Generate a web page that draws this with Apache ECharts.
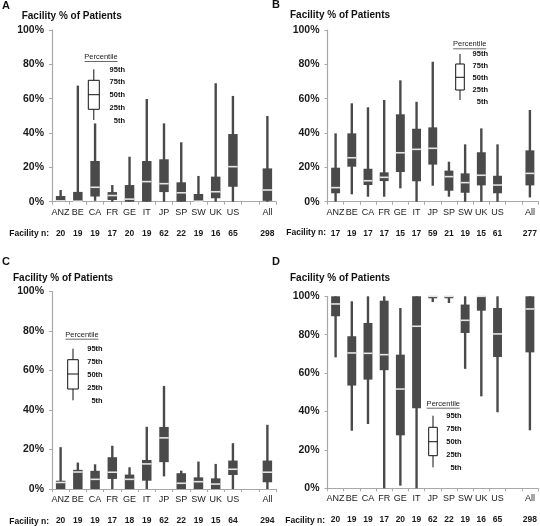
<!DOCTYPE html>
<html>
<head>
<meta charset="utf-8">
<script src="https://cdn.jsdelivr.net/npm/echarts@6/dist/echarts.min.js"></script>
<style>html,body{margin:0;padding:0;background:#fff;}#chart{width:540px;height:526px;}</style>
</head>
<body>
<div id="chart"></div>
<script>
// ---- data ----
const categories = ['ANZ','BE','CA','FR','GE','IT','JP','SP','SW','UK','US','','All'];
const nA = ['20','19','19','17','20','19','62','22','19','16','65','','298'];
const nB = ['17','19','17','17','15','17','59','21','19','15','61','','277'];
const nC = ['20','19','19','17','18','19','62','22','19','15','64','','294'];
const nD = ['20','19','19','17','20','19','62','22','19','16','65','','298'];
// [5th, 25th, 50th, 75th, 95th] per category (null = empty slot)
const boxA = [[0,0,0.5,3.3,6.8],[0,0,0.3,5.7,67.6],[0.5,3,8.4,23.7,45.6],[0,1,3.6,5.6,9.7],[0,0,1.5,9.7,26.2],[0,0,11.7,23.7,59.8],[0,5.6,10.5,24.7,45.6],[0,0,5.2,11.3,34.6],[0,0,0.3,4.5,15],[0,2,5.8,14.6,69],[0,8.7,20.4,39.4,61.6],null,[0,0.5,6.8,19.4,49.9]];
const boxB = [[0,4.9,8.2,19.8,39.8],[4.3,20.4,25.6,39.8,57.3],[2.9,9.7,12.2,19.2,55],[2.9,12,14.2,17.1,59.2],[7.8,17.3,28.5,50.9,70.7],[0,11.9,30.5,42.5,58.2],[9.3,21.6,31.1,43.3,81.5],[2.9,6.4,14.6,18.1,23.3],[0,5.2,11.1,16.5,33.4],[0,9.5,15.4,28.8,42.7],[0,4.9,9.7,15.1,33.4],null,[2.5,9.5,16.5,29.9,53.4]];
const boxC = [[0,0,3.3,4.2,21.2],[0,0,8.6,9.7,13.4],[0,0,4.9,9.2,12.5],[0,5.1,8.5,16.1,21.9],[0,0,4.9,7.3,11],[0,4.2,12.7,14.7,31.5],[6.4,13.6,25.9,31.4,52.2],[0,0,2.9,8,9.3],[0,0,3.7,5.9,13.9],[0,0,2.5,5.4,12.7],[0,7.1,10,14.4,23.2],null,[0,3.4,8.5,14.4,32.5]];
const boxD = [[68.2,89.6,96,100,100],[30,53.5,70.5,79.2,97.4],[33.5,56.6,70.3,86.1,100],[0,61.5,69.6,97.7,100],[1.4,27.6,51.7,69.6,93.9],[0,41.7,84.4,100,100],[97,99,100,100,100],[96.5,99,100,100,100],[62.2,80.9,87.5,95.7,100],[47.9,92.5,100,100,100],[39.6,68.4,80.4,93.9,100],null,[30.2,70.8,93.4,100,100]];
const panelLetters = ['A','B','C','D'];
const panelTitle = 'Facility % of Patients';
const nRowLabel = 'Facility n:';
const legendTitle = 'Percentile';
const legendLabels = ['95th','75th','50th','25th','5th'];

// ---- layout ----
const FONT = 'Liberation Sans, Arial, sans-serif';
const DARK = '#4a4a4a';
const AXIS = '#a8a8a8';
const grids = [
  {left:52, top:30, width:224, height:171.7},
  {left:327.5, top:30, width:210.5, height:171.7},
  {left:52, top:291.5, width:224, height:197.5},
  {left:327.5, top:296.3, width:210.5, height:192}
];
const boxes = [boxA, boxB, boxC, boxD];
const ns = [nA, nB, nC, nD];

function toData(arr){
  const out = [];
  arr.forEach((b,i)=>{ if(b) out.push([i].concat(b)); });
  return out;
}

function renderBox(params, api){
  const xi = api.value(0);
  const p = [1,2,3,4,5].map(k => api.coord([xi, api.value(k)]));
  const cx = p[0][0];
  const bw = api.size([1,0])[0]*0.55;
  const wW = 2.4;
  let boxTop = p[3][1], boxBot = p[1][1];
  if (boxBot - boxTop < 2) boxBot = boxTop + 2;
  return {type:'group', children:[
    {type:'rect', shape:{x:cx-wW/2, y:p[4][1], width:wW, height:p[0][1]-p[4][1]}, style:{fill:DARK}},
    {type:'rect', shape:{x:cx-bw/2, y:boxTop, width:bw, height:boxBot-boxTop}, style:{fill:DARK}},
    {type:'rect', shape:{x:cx-bw/2, y:p[2][1]-0.8, width:bw, height:1.6}, style:{fill:'#e4e4e4'}}
  ]};
}

const xAxes = [], yAxes = [], series = [];
grids.forEach((g,i)=>{
  xAxes.push({type:'category', gridIndex:i, data:categories,
    axisLine:{lineStyle:{color:AXIS, width:1}},
    axisTick:{show:true, length:3, lineStyle:{color:AXIS}},
    axisLabel:{interval:0, margin:6, fontSize:9, color:'#1a1a1a', fontFamily:FONT}});
  xAxes.push({type:'category', gridIndex:i, data:ns[i], position:'bottom', offset:21,
    axisLine:{show:false}, axisTick:{show:false},
    axisLabel:{interval:0, margin:6, fontSize:8.5, fontWeight:'bold', color:'#1a1a1a', fontFamily:FONT}});
  yAxes.push({type:'value', gridIndex:i, min:0, max:100, interval:20,
    axisLine:{show:true, lineStyle:{color:AXIS, width:1.2}},
    axisTick:{show:true, length:3, lineStyle:{color:AXIS}},
    splitLine:{show:false},
    axisLabel:{formatter:'{value}%', fontSize:10.5, fontWeight:'bold', color:'#1a1a1a', margin:8, fontFamily:FONT}});
  series.push({type:'custom', xAxisIndex:i*2, yAxisIndex:i, renderItem:renderBox,
    encode:{x:0, y:[1,2,3,4,5]}, data:toData(boxes[i]), silent:true, animation:false});
});

// legends (positions in px)
const legendPos = [
  {cx:93.8, bw:11, w95:69.3, b75:80.3, med:94.7, b25:109.3, w5:120, tx:101, ty:57, lx:125, ly:[70,82,95,108.3,121]},
  {cx:460, bw:8.6, w95:54, b75:64, med:77.3, b25:90, w5:100, tx:469.7, ty:44.3, lx:488, ly:[54.3,66.3,78,90,101.7]},
  {cx:73, bw:10.6, w95:348.7, b75:359.7, med:374, b25:389, w5:400.3, tx:82, ty:334.7, lx:102.7, ly:[348.7,361.7,374.7,388,400.7]},
  {cx:433, bw:8.6, w95:415.7, b75:427.3, med:441.7, b25:455.7, w5:467.3, tx:443.3, ty:403.7, lx:461.7, ly:[416.3,429,442.3,455.3,468]}
];
const titlePos = [
  {lx:2, ly:6, tx:21.7, ty:16, nx:49, ny:233.3},
  {lx:272, ly:5, tx:290, ty:15, nx:326, ny:232.7},
  {lx:2, ly:262, tx:13, ty:278, nx:49, ny:521.7},
  {lx:272, ly:262, tx:290, ty:278.7, nx:325, ny:521}
];
const graphic = [];
titlePos.forEach((t,i)=>{
  graphic.push({type:'text', left:t.lx, top:t.ly-6, style:{text:panelLetters[i], font:'bold 11px '+FONT, fill:'#111'}});
  graphic.push({type:'text', x:t.tx, y:t.ty, style:{text:panelTitle, font:'bold 10px '+FONT, fill:'#111', textVerticalAlign:'middle', textAlign:'left'}});
  graphic.push({type:'text', x:t.nx, y:t.ny, style:{text:nRowLabel, font:'bold 8.5px '+FONT, fill:'#111', textVerticalAlign:'middle', textAlign:'right'}});
});
legendPos.forEach(L=>{
  graphic.push({type:'line', shape:{x1:L.cx, y1:L.w95, x2:L.cx, y2:L.b75}, style:{stroke:'#111', lineWidth:1}});
  graphic.push({type:'line', shape:{x1:L.cx, y1:L.b25, x2:L.cx, y2:L.w5}, style:{stroke:'#111', lineWidth:1}});
  graphic.push({type:'rect', shape:{x:L.cx-L.bw/2, y:L.b75, width:L.bw, height:L.b25-L.b75}, style:{fill:'#fff', stroke:'#111', lineWidth:1}});
  graphic.push({type:'line', shape:{x1:L.cx-L.bw/2, y1:L.med, x2:L.cx+L.bw/2, y2:L.med}, style:{stroke:'#111', lineWidth:1}});
  graphic.push({type:'text', x:L.tx, y:L.ty, style:{text:legendTitle, font:'7.5px '+FONT, fill:'#222', textAlign:'center', textVerticalAlign:'middle'}});
  graphic.push({type:'line', shape:{x1:L.tx-16.5, y1:L.ty+4.5, x2:L.tx+16.5, y2:L.ty+4.5}, style:{stroke:'#444', lineWidth:0.8}});
  legendLabels.forEach((s,k)=>{
    graphic.push({type:'text', x:L.lx, y:L.ly[k], style:{text:s, font:'bold 7.5px '+FONT, fill:'#111', textAlign:'right', textVerticalAlign:'middle'}});
  });
});

const chart = echarts.init(document.getElementById('chart'), null, {renderer:'canvas'});
chart.setOption({
  animation:false,
  backgroundColor:'#fff',
  grid:grids,
  xAxis:xAxes,
  yAxis:yAxes,
  series:series,
  graphic:graphic
});
</script>
</body>
</html>
